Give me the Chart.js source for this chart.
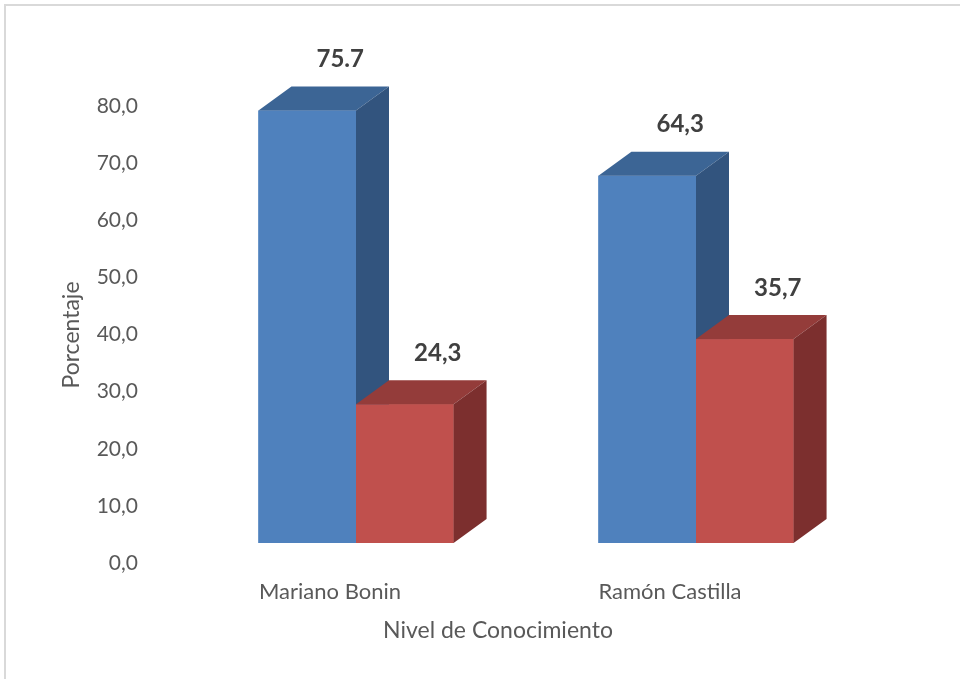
<!DOCTYPE html>
<html>
<head>
<meta charset="utf-8">
<script src="https://cdn.jsdelivr.net/npm/chart.js@4/dist/chart.umd.min.js"></script>
<style>
html,body{margin:0;padding:0;background:#fff}
#wrap{width:960px;height:679px;position:relative}
</style>
</head>
<body>
<div id="wrap"><canvas id="chart" width="960" height="679"></canvas></div>
<script>
const categories = ["Mariano Bonin","Ramón Castilla"]
const seriesA = [75.7, 64.3]
const seriesB = [24.3, 35.7]
const labelsA = ["75.7","64,3"]
const labelsB = ["24,3","35,7"]
const yTicks = [0,10,20,30,40,50,60,70,80]

const faces = [
{front:"#4f81bd", top:"#3c6595", side:"#32547e"},
{front:"#c0504d", top:"#943c3a", side:"#7c2f2e"}
]
const valueLabels = [labelsA, labelsB]
const DX = 33, DY = -24

const bars3d = {
id:"bars3d",
afterDatasetsDraw(chart){
const ctx = chart.ctx
ctx.save()
chart.data.datasets.forEach((ds,di)=>{
const meta = chart.getDatasetMeta(di)
const f = faces[di]
meta.data.forEach((bar,i)=>{
const p = bar.getProps(["x","y","base","width"],true)
const l = p.x - p.width/2, r = p.x + p.width/2
const t = p.y, b = p.base
ctx.fillStyle = f.front
ctx.fillRect(l,t,r-l,b-t)
ctx.fillStyle = f.top
ctx.beginPath()
ctx.moveTo(l,t); ctx.lineTo(l+DX,t+DY); ctx.lineTo(r+DX,t+DY); ctx.lineTo(r,t)
ctx.closePath(); ctx.fill()
ctx.fillStyle = f.side
ctx.beginPath()
ctx.moveTo(r,t); ctx.lineTo(r+DX,t+DY); ctx.lineTo(r+DX,b+DY); ctx.lineTo(r,b)
ctx.closePath(); ctx.fill()
ctx.fillStyle = "#404040"
ctx.font = "bold 24px Lato"
ctx.textAlign = "center"
ctx.textBaseline = "middle"
ctx.fillText(valueLabels[di][i], p.x + DX, t + DY - 27)
})
})
ctx.restore()
},
afterDraw(chart){
const ctx = chart.ctx
const a = chart.chartArea
ctx.save()
ctx.strokeStyle = "#d9d9d9"
ctx.lineWidth = 2
ctx.beginPath()
ctx.moveTo(5,679); ctx.lineTo(5,5); ctx.lineTo(960,5)
ctx.stroke()
ctx.fillStyle = "#595959"
ctx.font = "23px Lato"
ctx.textAlign = "center"
ctx.textBaseline = "middle"
ctx.fillText("Nivel de Conocimiento", (a.left+a.right)/2 - 28, 631)
ctx.translate(72, 335)
ctx.rotate(-Math.PI/2)
ctx.fillText("Porcentaje", 0, 0)
ctx.restore()
}
}

new Chart(document.getElementById("chart"),{
type:"bar",
data:{
labels:categories,
datasets:[
{label:"A", data:seriesA, backgroundColor:faces[0].front},
{label:"B", data:seriesB, backgroundColor:faces[1].front}
]
},
options:{
responsive:false,
animation:false,
layout:{padding:{left:0,top:86,right:94,bottom:0}},
datasets:{bar:{barPercentage:1,categoryPercentage:0.574}},
plugins:{legend:{display:false},tooltip:{enabled:false}},
scales:{
x:{
grid:{display:false,drawTicks:false},
border:{display:false},
ticks:{color:"#595959",font:{family:"Lato",size:22},padding:36,labelOffset:-26},
afterFit(s){ s.height = 136 }
},
y:{
min:0,max:80,
grid:{display:false,drawTicks:false},
border:{display:false},
afterBuildTicks(s){ s.ticks = yTicks.map(v=>({value:v})) },
ticks:{color:"#595959",font:{family:"Lato",size:21},padding:48,labelOffset:20,
callback:v=>v.toFixed(1).replace(".",",")},
afterFit(s){ s.width = 186 }
}
}
},
plugins:[bars3d]
})
</script>
</body>
</html>
